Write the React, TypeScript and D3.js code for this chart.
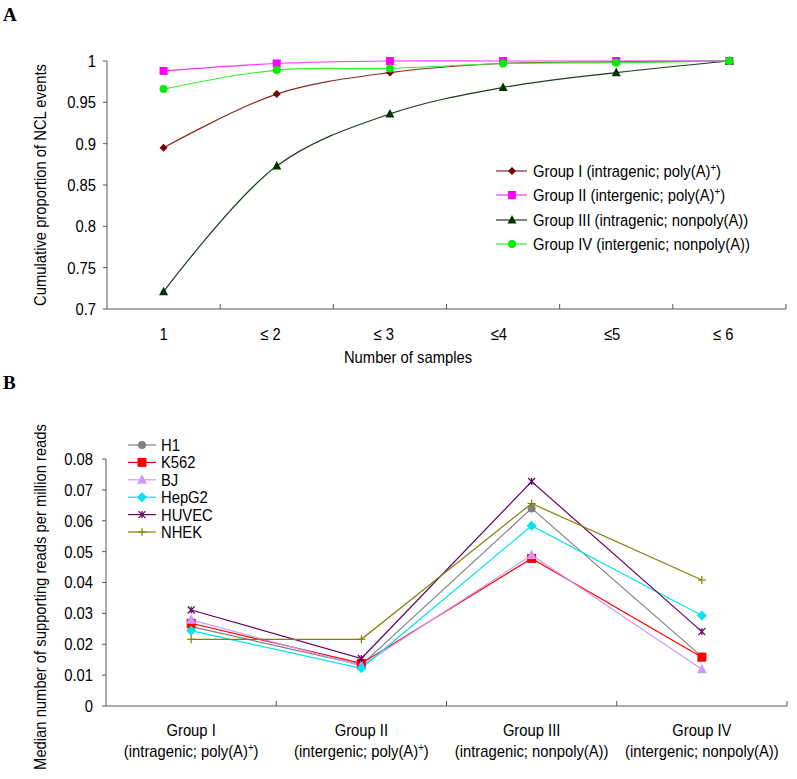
import React from "react";
import * as d3 from "d3";

const samplesCats = ["1", "≤ 2", "≤ 3", "≤4", "≤5", "≤ 6"];
const groupI = [0.895, 0.96, 0.986, 0.997, 0.999, 1.0];
const groupII = [0.988, 0.997, 1.0, 1.0, 1.0, 1.0];
const groupIII = [0.721, 0.873, 0.936, 0.968, 0.986, 1.0];
const groupIV = [0.966, 0.989, 0.991, 0.997, 0.998, 1.0];
const yTicksA = [0.7, 0.75, 0.8, 0.85, 0.9, 0.95, 1];

const groupCats = [
  ["Group I", "(intragenic; poly(A)", "+", ")"],
  ["Group II", "(intergenic; poly(A)", "+", ")"],
  ["Group III", "(intragenic; nonpoly(A))", "", ""],
  ["Group IV", "(intergenic; nonpoly(A))", "", ""],
];
const h1 = [0.0257, 0.0133, 0.064, 0.016];
const k562 = [0.0268, 0.0138, 0.0478, 0.0158];
const bj = [0.0279, 0.013, 0.0489, 0.0119];
const hepg2 = [0.0244, 0.0122, 0.0584, 0.0293];
const huvec = [0.0311, 0.0154, 0.0727, 0.0241];
const nhek = [0.0216, 0.0216, 0.0656, 0.0408];
const yTicksB = [0, 0.01, 0.02, 0.03, 0.04, 0.05, 0.06, 0.07, 0.08];

const FONT = "'Liberation Sans', Arial, sans-serif";
const SX = 0.87;

type Shape = "diamond" | "square" | "triangle" | "circle" | "star" | "plus";

function T({
  x,
  y,
  rotate = 0,
  anchor = "start",
  size = 17,
  dy,
  children,
}: {
  x: number;
  y: number;
  rotate?: number;
  anchor?: "start" | "middle" | "end";
  size?: number;
  dy?: string;
  children: React.ReactNode;
}) {
  return (
    <text
      transform={`translate(${x},${y}) rotate(${rotate}) scale(${SX},1)`}
      textAnchor={anchor}
      fontSize={size}
      dy={dy}
      fill="#000"
    >
      {children}
    </text>
  );
}

function Marker({ shape, x, y, color, size }: { shape: Shape; x: number; y: number; color: string; size: number }) {
  const s = size;
  if (shape === "diamond")
    return <path d={`M${x},${y - s}L${x + s},${y}L${x},${y + s}L${x - s},${y}Z`} fill={color} />;
  if (shape === "square") return <rect x={x - s} y={y - s} width={2 * s} height={2 * s} fill={color} />;
  if (shape === "triangle")
    return <path d={`M${x},${y - s * 1.1}L${x + s},${y + s * 0.8}L${x - s},${y + s * 0.8}Z`} fill={color} />;
  if (shape === "circle") return <circle cx={x} cy={y} r={s} fill={color} />;
  if (shape === "star")
    return (
      <g stroke={color} strokeWidth={1.3}>
        <line x1={x - s} y1={y - s} x2={x + s} y2={y + s} />
        <line x1={x - s} y1={y + s} x2={x + s} y2={y - s} />
        <line x1={x} y1={y - s} x2={x} y2={y + s} />
      </g>
    );
  return (
    <g stroke={color} strokeWidth={1.2}>
      <line x1={x - s} y1={y} x2={x + s} y2={y} />
      <line x1={x} y1={y - s} x2={x} y2={y + s} />
    </g>
  );
}

const seriesA = [
  { name: "Group I (intragenic; poly(A)", sup: "+", end: ")", values: groupI, line: "#8b2a2a", marker: "#7a0000", shape: "diamond" as Shape, size: 4 },
  { name: "Group II (intergenic; poly(A)", sup: "+", end: ")", values: groupII, line: "#ff33ff", marker: "#ff00ff", shape: "square" as Shape, size: 4 },
  { name: "Group III (intragenic; nonpoly(A))", sup: "", end: "", values: groupIII, line: "#1a3d1a", marker: "#003300", shape: "triangle" as Shape, size: 4.5 },
  { name: "Group IV (intergenic; nonpoly(A))", sup: "", end: "", values: groupIV, line: "#33ee33", marker: "#00ee00", shape: "circle" as Shape, size: 4 },
];

const seriesB = [
  { name: "H1", values: h1, color: "#808080", shape: "circle" as Shape, size: 4 },
  { name: "K562", values: k562, color: "#ff0000", shape: "square" as Shape, size: 4.5 },
  { name: "BJ", values: bj, color: "#cc99ff", shape: "triangle" as Shape, size: 5 },
  { name: "HepG2", values: hepg2, color: "#00e5ee", shape: "diamond" as Shape, size: 5 },
  { name: "HUVEC", values: huvec, color: "#660066", shape: "star" as Shape, size: 3.5 },
  { name: "NHEK", values: nhek, color: "#808000", shape: "plus" as Shape, size: 4 },
];

export default function App() {
  // Panel A
  const xA = d3.scaleBand<string>().domain(samplesCats).range([107, 786]);
  const yA = d3.scaleLinear().domain([0.7, 1]).range([309, 61]);
  const cx = (c: string) => (xA(c) as number) + xA.bandwidth() / 2;
  const lineA = d3
    .line<number>()
    .x((_, i) => cx(samplesCats[i]))
    .y((v) => yA(v))
    .curve(d3.curveCatmullRom.alpha(0.5));
  const boundsA = samplesCats.map((c) => (xA(c) as number) + xA.bandwidth());

  // Panel B
  const catsB = groupCats.map((g) => g[0]);
  const xB = d3.scaleBand<string>().domain(catsB).range([106, 787]);
  const yB = d3.scaleLinear().domain([0, 0.08]).range([706, 459]);
  const cxB = (c: string) => (xB(c) as number) + xB.bandwidth() / 2;
  const lineB = d3
    .line<number>()
    .x((_, i) => cxB(catsB[i]))
    .y((v) => yB(v));
  const boundsB = catsB.map((c) => (xB(c) as number) + xB.bandwidth());

  const axisColor = "#555";

  return (
    <svg width={797} height={779} style={{ position: "absolute", left: 0, top: 0, background: "#fff" }} fontFamily={FONT}>
      <rect x={0} y={0} width={797} height={779} fill="#fff" />
      {/* Panel A */}
      <text x={3} y={21} fontFamily="'Liberation Serif', 'DejaVu Serif', serif" fontWeight="bold" fontSize={19}>
        A
      </text>
      <line x1={107} y1={yA(0.7)} x2={107} y2={yA(1)} stroke={axisColor} strokeWidth={1} />
      <line x1={107} y1={yA(0.7)} x2={786} y2={yA(0.7)} stroke={axisColor} strokeWidth={1} />
      {yTicksA.map((t) => (
        <g key={t}>
          <line x1={103} x2={107} y1={yA(t)} y2={yA(t)} stroke={axisColor} />
          <T x={96} y={yA(t)} dy="0.35em" anchor="end">
            {String(t)}
          </T>
        </g>
      ))}
      {boundsA.map((b, i) => (
        <line key={i} x1={b} x2={b} y1={yA(0.7)} y2={yA(0.7) - 5} stroke={axisColor} />
      ))}
      {samplesCats.map((c, i) =>
        i === 0 ? (
          <T key={c} x={cx(c)} y={340} anchor="middle">
            {c}
          </T>
        ) : (
          <T key={c} x={cx(c) + 4} y={340} anchor="end">
            {c}
          </T>
        )
      )}
      <T x={408} y={363} anchor="middle">
        Number of samples
      </T>
      <T x={46} y={(yA(0.7) + yA(1)) / 2} rotate={-90} anchor="middle">
        Cumulative proportion of NCL events
      </T>
      {seriesA.map((s) => (
        <path key={s.name} d={lineA(s.values) || ""} fill="none" stroke={s.line} strokeWidth={1.2} />
      ))}
      {seriesA.map((s) =>
        s.values.map((v, i) => (
          <Marker key={s.name + i} shape={s.shape} x={cx(samplesCats[i])} y={yA(v)} color={s.marker} size={s.size} />
        ))
      )}
      {seriesA.map((s, i) => {
        const ly = [171, 195, 220, 244][i];
        return (
          <g key={"lg" + s.name}>
            <line x1={496} x2={527} y1={ly} y2={ly} stroke={s.line} strokeWidth={1.2} />
            <Marker shape={s.shape} x={512} y={ly} color={s.marker} size={s.size} />
            <T x={533} y={ly} dy="0.35em">
              {s.name}
              {s.sup && (
                <tspan dy={-6} fontSize={11}>
                  {s.sup}
                </tspan>
              )}
              {s.end && <tspan dy={6}>{s.end}</tspan>}
            </T>
          </g>
        );
      })}

      {/* Panel B */}
      <text x={3} y={389} fontFamily="'Liberation Serif', 'DejaVu Serif', serif" fontWeight="bold" fontSize={19}>
        B
      </text>
      <line x1={106} y1={yB(0)} x2={106} y2={yB(0.08)} stroke={axisColor} />
      <line x1={106} y1={yB(0)} x2={787} y2={yB(0)} stroke={axisColor} />
      {yTicksB.map((t) => (
        <g key={t}>
          <line x1={102} x2={106} y1={yB(t)} y2={yB(t)} stroke={axisColor} />
          <T x={93} y={yB(t)} dy="0.35em" anchor="end">
            {String(t)}
          </T>
        </g>
      ))}
      {boundsB.map((b, i) => (
        <line key={i} x1={b} x2={b} y1={yB(0)} y2={yB(0) - 5} stroke={axisColor} />
      ))}
      {groupCats.map((g) => (
        <g key={g[0]}>
          <T x={cxB(g[0])} y={736} anchor="middle">
            {g[0]}
          </T>
          <T x={cxB(g[0])} y={757} anchor="middle">
            {g[1]}
            {g[2] && (
              <tspan dy={-6} fontSize={11}>
                {g[2]}
              </tspan>
            )}
            {g[3] && <tspan dy={6}>{g[3]}</tspan>}
          </T>
        </g>
      ))}
      <T x={46} y={597} rotate={-90} anchor="middle">
        Median number of supporting reads per million reads
      </T>
      {seriesB.map((s) => (
        <path key={s.name} d={lineB(s.values) || ""} fill="none" stroke={s.color} strokeWidth={1.2} />
      ))}
      {seriesB.map((s) =>
        s.values.map((v, i) => (
          <Marker key={s.name + i} shape={s.shape} x={cxB(catsB[i])} y={yB(v)} color={s.color} size={s.size} />
        ))
      )}
      {seriesB.map((s, i) => {
        const ly = 445 + i * 17.4;
        return (
          <g key={"lgb" + s.name}>
            <line x1={128} x2={156} y1={ly} y2={ly} stroke={s.color} strokeWidth={1.2} />
            <Marker shape={s.shape} x={142} y={ly} color={s.color} size={s.size} />
            <T x={161} y={ly} dy="0.35em">
              {s.name}
            </T>
          </g>
        );
      })}
    </svg>
  );
}
